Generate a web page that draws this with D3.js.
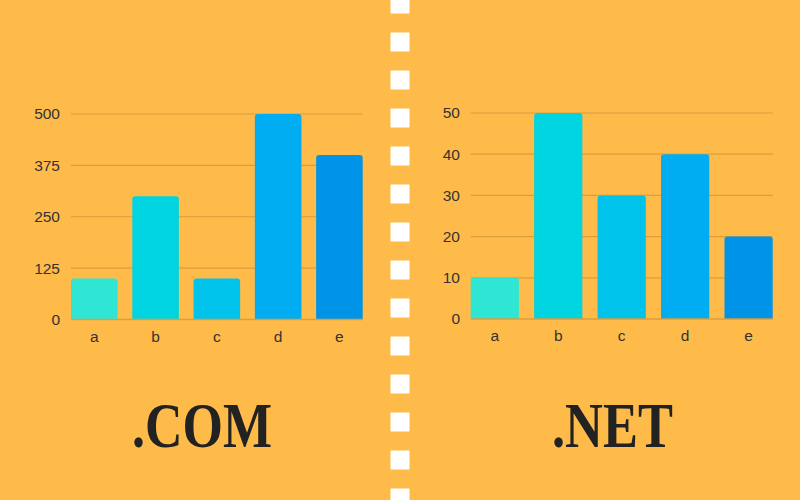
<!DOCTYPE html>
<html><head><meta charset="utf-8">
<script src="https://cdn.jsdelivr.net/npm/d3@7"></script>
<style>html,body{margin:0;padding:0;background:#FEBB4A;}svg{display:block;}</style>
</head><body>
<svg id="chart" width="800" height="500"></svg>
<script>
const categories = ["a","b","c","d","e"];
const comValues = [100, 300, 100, 500, 400];
const netValues = [10, 50, 30, 40, 20];
const comTicks = [0, 125, 250, 375, 500];
const netTicks = [0, 10, 20, 30, 40, 50];
const barColors = ["#2EE6D3", "#00D4E0", "#00C3EC", "#00ADF2", "#0094E8"];
const titles = [".COM", ".NET"];

const svg = d3.select("#chart");
svg.append("rect").attr("width",800).attr("height",500).attr("fill","#FEBB4A");

// divider
svg.append("line").attr("x1",400).attr("x2",400).attr("y1",-5.5).attr("y2",505)
  .attr("stroke","#FFFFFF").attr("stroke-width",19).attr("stroke-dasharray","19,19");

function drawChart(cfg){
  const x = d3.scaleBand().domain(categories).range([cfg.x0, cfg.x1]).paddingInner(0.24).paddingOuter(0);
  const y = d3.scaleLinear().domain([0, d3.max(cfg.ticks)]).range([cfg.yb, cfg.yt]);
  const g = svg.append("g");
  g.selectAll(".grid").data(cfg.ticks.filter(t=>t>0)).join("line")
    .attr("x1",cfg.x0).attr("x2",cfg.x1)
    .attr("y1",d=>y(d)).attr("y2",d=>y(d))
    .attr("stroke","#D99E3E").attr("stroke-width",1.2);
  g.selectAll(".yl").data(cfg.ticks).join("text")
    .attr("x",cfg.labelX).attr("y",d=>y(d)).attr("dy","0.35em")
    .attr("text-anchor","end").attr("font-family","Liberation Sans, Arial, sans-serif")
    .attr("font-size",15.5).attr("fill","#333333").text(d=>d);
  g.selectAll(".bar").data(cfg.values).join("path")
    .attr("fill",(d,i)=>barColors[i])
    .attr("d",(d,i)=>{
      const bx = x(categories[i]), bw = x.bandwidth(), top = y(d), bot = y(0), r = 3;
      return `M${bx},${bot}L${bx},${top+r}Q${bx},${top} ${bx+r},${top}L${bx+bw-r},${top}Q${bx+bw},${top} ${bx+bw},${top+r}L${bx+bw},${bot}Z`;
    });
  g.append("line").attr("x1",cfg.x0).attr("x2",cfg.x1).attr("y1",y(0)).attr("y2",y(0))
    .attr("stroke","#D99E3E").attr("stroke-width",1.5);
  g.selectAll(".xl").data(categories).join("text")
    .attr("x",d=>x(d)+x.bandwidth()/2).attr("y",cfg.yb+17).attr("dy","0.35em")
    .attr("text-anchor","middle").attr("font-family","Liberation Sans, Arial, sans-serif")
    .attr("font-size",15.5).attr("fill","#333333").text(d=>d);
  svg.append("text").attr("x",cfg.titleX).attr("y",447)
    .attr("font-family","Liberation Serif, DejaVu Serif, serif").attr("font-weight","bold")
    .attr("font-size",64).attr("fill","#222222")
    .attr("textLength",cfg.titleW).attr("lengthAdjust","spacingAndGlyphs")
    .text(cfg.title);
}

drawChart({x0:71, x1:362.7, yb:319.5, yt:114, ticks:comTicks, values:comValues, labelX:60, title:titles[0], titleX:132, titleW:140});
drawChart({x0:470.7, x1:772.7, yb:319, yt:113, ticks:netTicks, values:netValues, labelX:460, title:titles[1], titleX:552, titleW:121});
</script>
</body></html>
